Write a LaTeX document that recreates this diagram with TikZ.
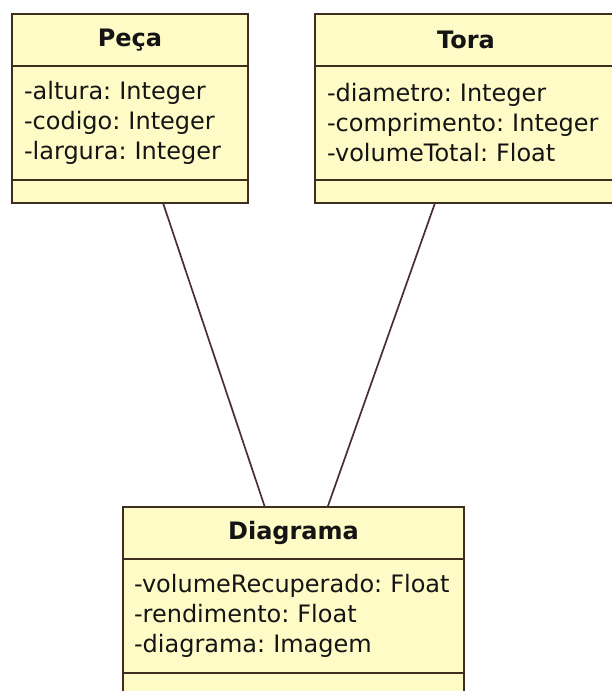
\documentclass[tikz,border=0pt]{standalone}
\usepackage{fontspec}
\setmainfont{DejaVu Sans}
\usepackage{tikz}
\usetikzlibrary{positioning, calc}
\definecolor{umlFill}{HTML}{FFFBC6}
\definecolor{umlBorder}{HTML}{3D2E20}
\definecolor{umlLink}{HTML}{4A3030}
\definecolor{umlText}{HTML}{141414}
\newcommand{\umlfont}{\fontsize{24}{30}\selectfont\frenchspacing}

\begin{document}
\begin{tikzpicture}[
      x=1pt, y=-1pt,
      every node/.style={font=\umlfont, text=umlText},
      clshead/.style={rectangle, draw=umlBorder, fill=umlFill, line width=1.5pt,
                      outer sep=0pt, minimum height=52pt, align=center,
                      font=\umlfont\bfseries},
      clsattr/.style={rectangle, draw=umlBorder, fill=umlFill, line width=1.5pt,
                      outer sep=0pt, minimum height=114pt, inner xsep=12pt,
                      align=left},
      clsops/.style={rectangle, draw=umlBorder, fill=umlFill, line width=1.5pt,
                     outer sep=0pt, minimum height=23pt},
      assoc/.style={umlLink, line width=1.7pt},
    ]

      \fill[white] (0,0) rectangle (611,691);
      \useasboundingbox (0,0) rectangle (611,691);

      % Peça
      \node[clshead, minimum width=236pt, anchor=north west] (peca) at (12,14) {Peça};
      \node[clsattr, text width=212pt, below=0pt of peca] (pecaAttr)
        {-altura: Integer\\-codigo: Integer\\-largura: Integer};
      \node[clsops, minimum width=236pt, below=0pt of pecaAttr] (pecaOps) {};

      % Tora
      \node[clshead, minimum width=320pt, anchor=north west] (tora) at (315,14) {\hspace*{-18pt}Tora};
      \node[clsattr, text width=296pt, below=0pt of tora] (toraAttr)
        {-diametro: Integer\\-comprimento: Integer\\-volumeTotal: Float};
      \node[clsops, minimum width=320pt, below=0pt of toraAttr] (toraOps) {};

      % Diagrama
      \node[clshead, minimum width=341pt, anchor=north west] (diag) at (123,507) {Diagrama};
      \node[clsattr, inner xsep=11pt, text width=319pt, below=0pt of diag] (diagAttr)
        {-volumeRecuperado: Float\\-rendimento: Float\\-diagrama: Imagem};
      \node[clsops, minimum width=341pt, below=0pt of diagAttr] (diagOps) {};

      % associations
      \draw[assoc] ($(pecaOps.south west)!0.64!(pecaOps.south east)$)
        -- ($(diag.north west)!0.416!(diag.north east)$);
      \draw[assoc] ($(toraOps.south west)!0.375!(toraOps.south east)$)
        -- ($(diag.north west)!0.60!(diag.north east)$);

    \end{tikzpicture}
\end{document}
